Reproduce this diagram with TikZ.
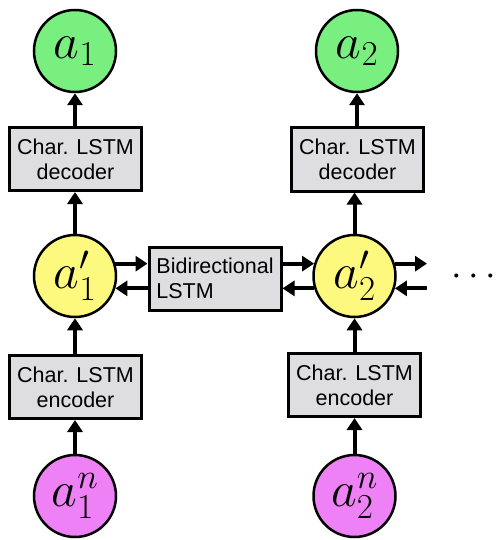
\documentclass[tikz,border=0pt]{standalone}
\usepackage{fix-cm}
\usepackage{fontspec}
\newfontfamily\boxfont{Liberation Sans}
\usetikzlibrary{arrows.meta}
\definecolor{agreen}{HTML}{79EF80}
\definecolor{ayellow}{HTML}{FDF97F}
\definecolor{amag}{HTML}{EE81F6}
\definecolor{boxgray}{HTML}{DEDEE0}
\begin{document}
\begin{tikzpicture}[x=1pt,y=-1pt,
  circ/.style={circle, draw, line width=2.5pt, minimum size=82pt, inner sep=0pt,
    font=\fontsize{50}{56}\selectfont},
  box/.style={draw, line width=3pt, fill=boxgray, minimum width=132pt, minimum height=63pt,
    inner sep=0pt, align=center, font=\boxfont\fontsize{21.5}{25}\selectfont},
  lbox/.style={box, align=left},
  arr/.style={line width=4pt, -{Triangle[length=12pt,width=15pt]}},
]
\useasboundingbox (0,0) rectangle (495,540);
% left column
\node[circ, fill=agreen] (a1) at (75,51) {$a_1$};
\node[box] (dec1) at (75.5,159) {Char. LSTM\\decoder};
\node[circ, fill=ayellow] (p1) at (75,276) {$a'_1$};
\node[box] (enc1) at (75.5,387) {Char. LSTM\\encoder};
\node[circ, fill=amag] (n1) at (75,496) {$a^n_1$};
% right column
\node[circ, fill=agreen] (a2) at (357,51) {$a_2$};
\node[box] (dec2) at (357.5,159.5) {Char. LSTM\\decoder};
\node[circ, fill=ayellow] (p2) at (354.5,276) {$a'_2$};
\node[box] (enc2) at (354.5,385) {Char. LSTM\\encoder};
\node[circ, fill=amag] (n2) at (354.5,496) {$a^n_2$};
% middle
\node[lbox] (bi) at (215,278.5) {Bidirectional\\LSTM};
\node[font=\fontsize{38}{40}\selectfont, inner sep=0pt] (dots) at (474,277) {$\cdots$};
\coordinate (rx) at (427,0);
% vertical arrows
\draw[arr] (n1.north) -- (n1.north |- enc1.south);
\draw[arr] (enc1.north -| p1.south) -- (p1.south);
\draw[arr] (p1.north) -- (p1.north |- dec1.south);
\draw[arr] (dec1.north -| a1.south) -- (a1.south);
\draw[arr] (n2.north) -- (n2.north |- enc2.south);
\draw[arr] (enc2.north -| p2.south) -- (p2.south);
\draw[arr] (p2.north) -- (p2.north |- dec2.south);
\draw[arr] (dec2.north -| a2.south) -- (a2.south);
% horizontal arrows
\draw[arr] (p1.17) -- (p1.17 -| bi.west);
\draw[arr] (p1.-17 -| bi.west) -- (p1.-17);
\draw[arr] (p2.163 -| bi.east) -- (p2.163);
\draw[arr] (p2.197) -- (p2.197 -| bi.east);
\draw[arr] (p2.17) -- (p2.17 -| rx);
\draw[arr] (p2.-17 -| rx) -- (p2.-17);
\end{tikzpicture}
\end{document}
